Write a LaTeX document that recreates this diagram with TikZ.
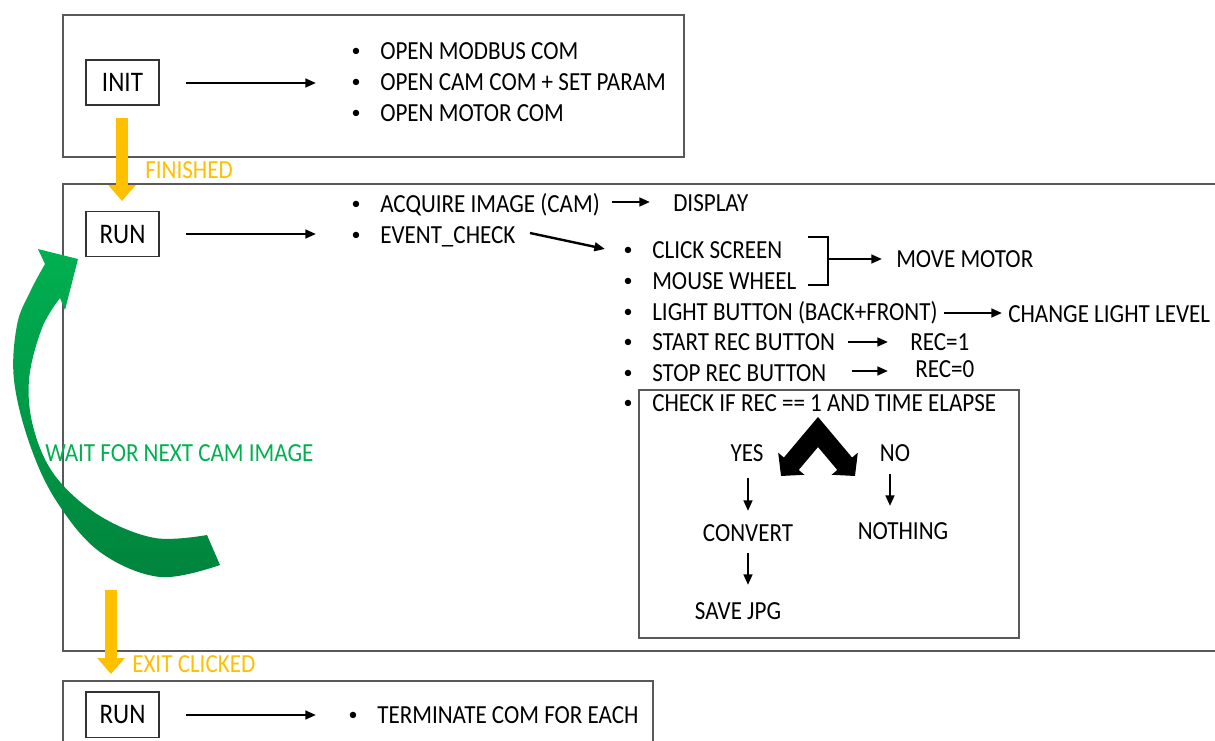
\documentclass[tikz,border=0pt]{standalone}
\usepackage{fontspec}
\setmainfont{Carlito}
\usetikzlibrary{arrows.meta}
\definecolor{yellowc}{HTML}{FFC000}
\definecolor{gtxt}{HTML}{00B050}
\definecolor{gtop}{HTML}{00B050}
\definecolor{gbot}{HTML}{00843D}
\definecolor{boxline}{HTML}{595959}
\begin{document}
\begin{tikzpicture}[x=0.75pt,y=-0.75pt,
 t/.style={font=\fontsize{17.3}{20}\selectfont, inner sep=0pt, text height=11.1pt, text depth=0pt, anchor=west, yscale=1.13, transform shape},
 tc/.style={t, anchor=center},
 bul/.style={font=\fontsize{13.5}{14}\selectfont, inner sep=0pt, anchor=center},
 frame/.style={draw=boxline, line width=0.9pt},
 state/.style={draw=black!80, line width=0.8pt, minimum width=54.75pt, minimum height=29.9pt, inner sep=0pt, text height=12.1pt, text depth=0pt, font=\fontsize{18.8}{22}\selectfont, yscale=1.13, transform shape},
 arr/.style={line width=1.8pt, -{Triangle[length=8pt,width=6.5pt]}},
 yarr/.style={draw=yellowc, fill=yellowc, line width=9pt, -{Triangle[length=12pt,width=20pt]}},
 ylab/.style={t, text=yellowc},
]
\useasboundingbox (0,0) rectangle (1215,740);

% frames
\draw[frame] (63,15) rectangle (684,157);
\draw[frame] (63,184) rectangle (1240,651);
\draw[frame] (63,681) rectangle (653,760);
\draw[frame] (639,390) rectangle (1019,638);

% green curved arrow
\shade[top color=gtop, bottom color=gbot]
 plot[smooth, tension=0.6] coordinates {(220,565) (160,577) (100,552) (57,502) (30,445) (14,380) (17,325) (30,292) (45,264)}
 -- (38,249) -- (78,259) -- (65,310) --
 plot[smooth, tension=0.6] coordinates {(60,298) (42,328) (29,380) (34,430) (56,477) (100,516) (155,538) (207,535)}
 -- cycle;
\node[t, text=gtxt] (wait) at (45,453) {WAIT FOR NEXT CAM IMAGE};

% INIT section
\node[state] (init) at (122.5,82.5) {INIT};
\coordinate (ia) at (186,83); \coordinate (ib) at (316,83);
\draw[arr] (ia) -- (ib);
\node[bul] (ib1) at (356,52) {\textbullet}; \node[t] (im1) at (380,51) {OPEN MODBUS COM};
\node[bul] (ib2) at (356,83) {\textbullet}; \node[t] (im2) at (380,82) {OPEN CAM COM + SET PARAM};
\node[bul] (ib3) at (356,114) {\textbullet}; \node[t] (im3) at (380,113) {OPEN MOTOR COM};

% yellow arrow 1
\coordinate (y1a) at (122,118); \coordinate (y1b) at (122,201);
\draw[yarr] (y1a) -- (y1b);
\node[ylab] (fin) at (145,170) {FINISHED};

% RUN section
\node[state] (run) at (122.5,234) {RUN};
\coordinate (ra) at (186,234); \coordinate (rb) at (316,234);
\draw[arr] (ra) -- (rb);
\node[bul] (rb1) at (356,205) {\textbullet}; \node[t] (acq) at (380,204) {ACQUIRE IMAGE (CAM)};
\node[bul] (rb2) at (356,236) {\textbullet}; \node[t] (evt) at (380,235) {EVENT\_CHECK};
\node[t] (disp) at (673,203) {DISPLAY};
\coordinate (da) at (612,202); \coordinate (db) at (650,202);
\draw[arr] (da) -- (db);
\coordinate (ea) at (530,233); \coordinate (eb) at (605,249);
\draw[arr] (ea) -- (eb);

\node[bul] (eb1) at (628,251) {\textbullet}; \node[t] (click) at (652,250) {CLICK SCREEN};
\node[bul] (eb2) at (628,282) {\textbullet}; \node[t] (wheel) at (652,281) {MOUSE WHEEL};
\node[bul] (eb3) at (628,313) {\textbullet}; \node[t] (light) at (652,312) {LIGHT BUTTON (BACK+FRONT)};
\node[bul] (eb4) at (628,343) {\textbullet}; \node[t] (start) at (652,342) {START REC BUTTON};
\node[bul] (eb5) at (628,374) {\textbullet}; \node[t] (stop) at (652,373) {STOP REC BUTTON};
\node[bul] (eb6) at (628,404) {\textbullet}; \node[t] (check) at (652,403) {CHECK IF REC == 1 AND TIME ELAPSE};

% bracket
\coordinate (k1) at (808,237); \coordinate (k2) at (828,237);
\coordinate (k3) at (828,285); \coordinate (k4) at (808,285);
\draw[line width=1.8pt] (k1) -- (k2) -- (k3) -- (k4);
\coordinate (km) at (828,259); \coordinate (kn) at (882,259);
\draw[arr] (km) -- (kn);
\node[t] (move) at (896,259) {MOVE MOTOR};

\coordinate (la) at (944,313); \coordinate (lb) at (1002,313);
\draw[arr] (la) -- (lb);
\node[t] (chg) at (1008,314) {CHANGE LIGHT LEVEL};

\coordinate (sa) at (848,342); \coordinate (sb) at (888,342);
\draw[arr] (sa) -- (sb);
\node[t] (rec1) at (910,342) {REC=1};
\coordinate (ta) at (852,371); \coordinate (tb) at (888,371);
\draw[arr] (ta) -- (tb);
\node[t] (rec0) at (915,369) {REC=0};

% chevron double arrow
\coordinate (cl) at (781,476); \coordinate (cp) at (818,432); \coordinate (cr) at (855,476);
\draw[line width=14.5pt, line join=miter,
 {Triangle[length=12pt,width=25pt]}-{Triangle[length=12pt,width=25pt]}] (cl) -- (cp) -- (cr);

\node[tc] (yes) at (747,453) {YES};
\node[tc] (no) at (895,453) {NO};
\node[tc] (conv) at (748,533) {CONVERT};
\node[tc] (noth) at (903,531) {NOTHING};
\node[tc] (save) at (738,611) {SAVE JPG};
\coordinate (ya) at (748,478); \coordinate (yb) at (748,511);
\draw[arr] (ya) -- (yb);
\coordinate (na) at (890,474); \coordinate (nb) at (890,506);
\draw[arr] (na) -- (nb);
\coordinate (ca) at (748,553); \coordinate (cb) at (748,585);
\draw[arr] (ca) -- (cb);

% yellow arrow 2
\coordinate (y2a) at (111,590); \coordinate (y2b) at (111,674);
\draw[yarr] (y2a) -- (y2b);
\node[ylab] (exit) at (132,664) {EXIT CLICKED};

% final RUN section
\node[state] (run2) at (122.5,714.5) {RUN};
\coordinate (fa) at (186,715); \coordinate (fb) at (316,715);
\draw[arr] (fa) -- (fb);
\node[bul] (fb1) at (353,716) {\textbullet}; \node[t] (term) at (377,715) {TERMINATE COM FOR EACH};
\end{tikzpicture}
\end{document}
